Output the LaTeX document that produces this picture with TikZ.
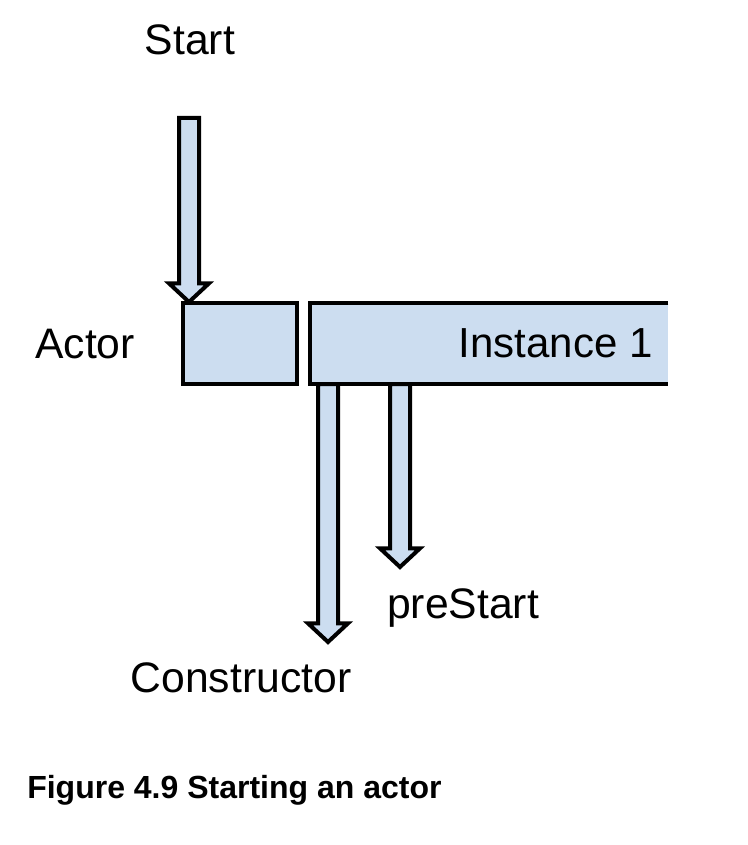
\documentclass[tikz,border=0pt]{standalone}
\usepackage{fontspec}
\setmainfont{Liberation Sans}
\usetikzlibrary{calc,positioning}
\definecolor{boxblue}{HTML}{CCDDF0}
\tikzset{
  lbl/.style={font=\fontsize{32}{38}\selectfont, inner sep=0pt},
  blk/.style={fill=boxblue, draw=black, line width=3pt, inner sep=0pt},
  fat/.style={fill=boxblue, draw=black, line width=3pt, line join=miter},
}
% fat downward arrow: #1 tail, #2 tip
\newcommand{\fatarrow}[2]{%
  \draw[fat] let \p1=#1, \p2=#2 in
    (\x1-7.5pt,\y1) -- (\x1-7.5pt,\y2+14pt) -- (\x1-15pt,\y2+14pt) -- (\x1,\y2)
    -- (\x1+15pt,\y2+14pt) -- (\x1+7.5pt,\y2+14pt) -- (\x1+7.5pt,\y1) -- cycle;}

\begin{document}
\begin{tikzpicture}[x=0.75pt, y=-0.75pt]
\useasboundingbox (0,0) rectangle (748,845);
\node[lbl, anchor=base] (start) at (190,55) {Start};
\node[blk, minimum width=85.5pt, minimum height=60.75pt] (actor) at (240,343.5) {};
\node[lbl, anchor=base west] (actorlbl) at (35,358) {Actor};
\node[fill=boxblue, minimum width=268.5pt, minimum height=60.75pt, inner sep=0pt] (inst) at (489,343.5) {};
\draw[line width=3pt] (inst.north east) -- (inst.north west) -- (inst.south west) -- (inst.south east);
\node[lbl, anchor=base east, font=\fontsize{31.5}{38}\selectfont] (instlbl) at (653,357) {Instance 1};
\node[lbl, anchor=base west] (prestart) at (387,618) {preStart};
\node[lbl, anchor=base] (ctor) at (241,692) {Constructor};
\node[anchor=base west, inner sep=0pt, font=\fontsize{24}{30}\selectfont\bfseries] (caption) at (27,798) {Figure 4.9 Starting an actor};
% arrows
\coordinate (t1) at (189,118);
\coordinate (h1) at (189,302);
\fatarrow{(t1)}{(h1)}
\coordinate (t2) at (328,384);
\coordinate (h2) at (328,642);
\fatarrow{(t2)}{(h2)}
\coordinate (t3) at (400,384);
\coordinate (h3) at (400,567);
\fatarrow{(t3)}{(h3)}
\end{tikzpicture}
\end{document}
